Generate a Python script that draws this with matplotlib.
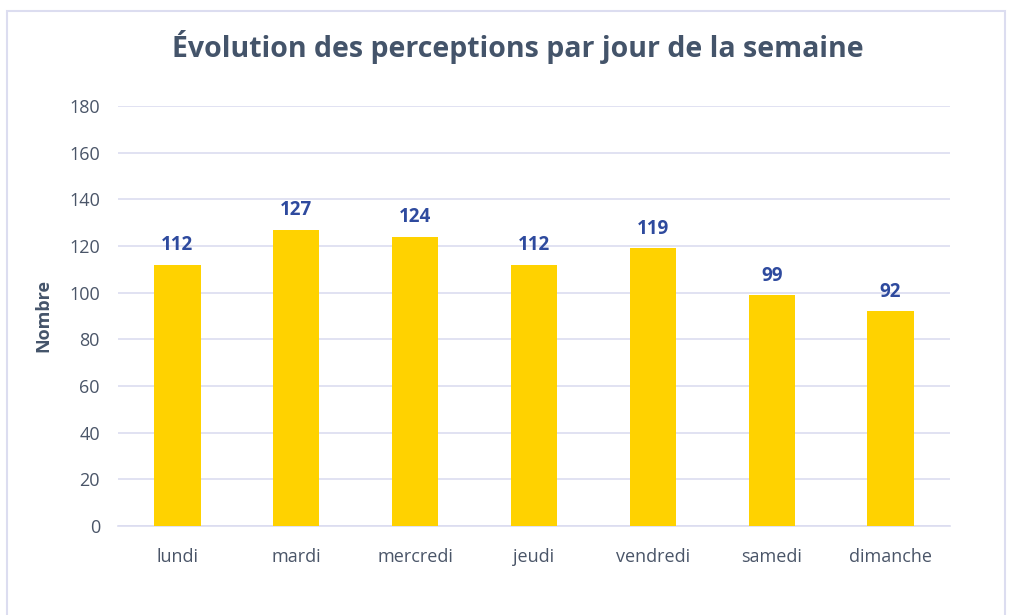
import matplotlib.pyplot as plt
from matplotlib.patches import Rectangle

days = ["lundi", "mardi", "mercredi", "jeudi", "vendredi", "samedi", "dimanche"]
counts = [112, 127, 124, 112, 119, 99, 92]
yticks = [0, 20, 40, 60, 80, 100, 120, 140, 160, 180]

bar_color = "#FFD200"
label_color = "#2E4A9E"
text_color = "#44546A"
tick_color = "#4A5568"
grid_color = "#DCDDF0"

plt.rcParams['font.family'] = ['Open Sans', 'DejaVu Sans']

fig = plt.figure(figsize=(10.18, 6.15), dpi=100)
fig.patch.set_facecolor("white")

# light frame around the chart
fig.patches.append(Rectangle((7 / 1018, -0.1), (1005 - 7) / 1018, 1.1 - 11 / 615,
                             transform=fig.transFigure, fill=False,
                             edgecolor="#DCDDF0", linewidth=1.5))

ax = fig.add_axes([118 / 1018, 1 - 526 / 615, (950 - 118) / 1018, (526 - 106) / 615])
x = range(len(days))
bars = ax.bar(x, counts, width=0.39, color=bar_color, zorder=3)

for b, v in zip(bars, counts):
    ax.text(b.get_x() + b.get_width() / 2, v + 4, str(v), ha="center", va="bottom",
            fontsize=13.5, fontweight="bold", color=label_color)

ax.set_xlim(-0.5, len(days) - 0.5)
ax.set_ylim(0, 180)
ax.set_yticks(yticks)
ax.set_xticks(list(x))
ax.set_xticklabels(days)
ax.tick_params(axis="both", length=0, labelsize=13, colors=tick_color)
ax.tick_params(axis="y", pad=13)
ax.tick_params(axis="x", pad=16)
ax.grid(axis="y", color=grid_color, linewidth=1.2, zorder=0)
for s in ["top", "right", "left"]:
    ax.spines[s].set_visible(False)
ax.spines["bottom"].set_color(grid_color)
ax.spines["bottom"].set_linewidth(1.2)

ax.set_ylabel("Nombre", fontsize=13, fontweight="bold", color=text_color, labelpad=12)
fig.text(518 / 1018, 1 - 47 / 615, "Évolution des perceptions par jour de la semaine",
         ha="center", va="center", fontsize=20.5, fontweight="bold", color=text_color)

fig.savefig("out.png", dpi=100)
